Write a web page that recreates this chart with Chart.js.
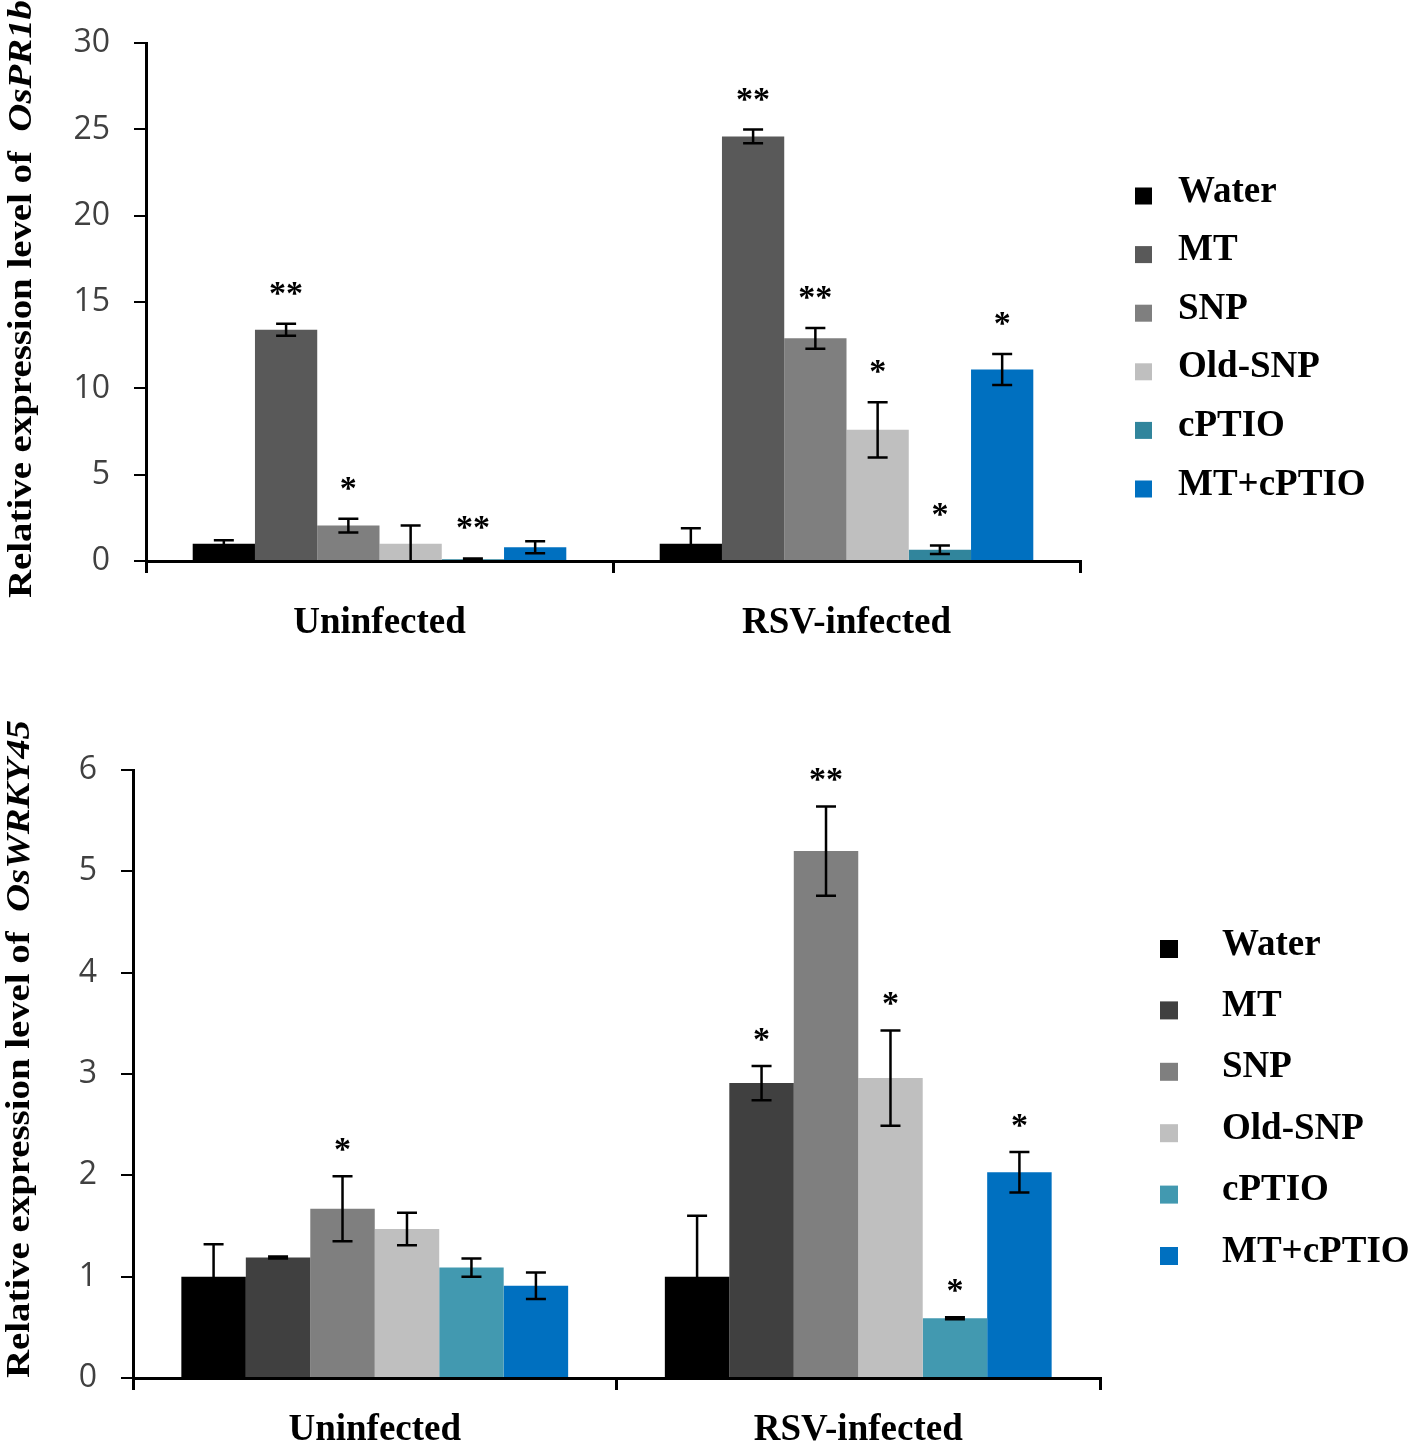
<!DOCTYPE html>
<html>
<head>
<meta charset="utf-8">
<script src="https://cdn.jsdelivr.net/npm/chart.js@4.4.0/dist/chart.umd.min.js"></script>
<style>
    body { margin: 0; background: #fff; }
    .wrap { position: relative; width: 1418px; }
</style>
</head>
<body>
<div class="wrap" style="height:660px"><canvas id="diagram"></canvas></div>
<div class="wrap" style="height:787px"><canvas id="diagram2"></canvas></div>
<script>
// kategorier och behandlingar
const categories = ['Uninfected', 'RSV-infected'];
const treatments = ['Water', 'MT', 'SNP', 'Old-SNP', 'cPTIO', 'MT+cPTIO'];

// OsPR1b: ett värde per behandling och kategori
const pr1bValues = [[1.0, 1.0], [13.4, 24.6], [2.05, 12.9], [1.0, 7.6], [0.1, 0.65], [0.8, 11.1]];
const pr1bErrors = [[0.2, 0.9], [0.35, 0.4], [0.4, 0.6], [1.05, 1.6], [0.05, 0.25], [0.35, 0.9]];
const pr1bStars = [['', ''], ['**', '**'], ['*', '**'], ['', '*'], ['**', '*'], ['', '*']];
const pr1bColors = ['#000000', '#595959', '#7f7f7f', '#bfbfbf', '#31859c', '#0070c0'];

// OsWRKY45
const wrkyValues = [[1.0, 1.0], [1.19, 2.91], [1.67, 5.2], [1.47, 2.96], [1.09, 0.59], [0.91, 2.03]];
const wrkyErrors = [[0.32, 0.6], [0.01, 0.17], [0.32, 0.44], [0.16, 0.47], [0.09, 0.01], [0.13, 0.2]];
const wrkyStars = [['', ''], ['', '*'], ['*', '**'], ['', '*'], ['', '*'], ['', '*']];
const wrkyColors = ['#000000', '#404040', '#7f7f7f', '#bfbfbf', '#4299b0', '#0070c0'];

const serif = 'Liberation Serif';

/**
* Ritar felstaplar och stjärnor ovanför staplarna
*/
const errorBars = {
    id: 'errorBars',
    afterDatasetsDraw(chart, args, opts) {
        const ctx = chart.ctx;
        const y = chart.scales.y;
        ctx.save();
        ctx.strokeStyle = '#000';
        ctx.fillStyle = '#000';
        ctx.lineWidth = 2.5;
        chart.data.datasets.forEach((ds, i) => {
            chart.getDatasetMeta(i).data.forEach((bar, j) => {
                const v = ds.data[j];
                const e = opts.errors[i][j];
                const top = y.getPixelForValue(v + e);
                const low = v - e;
                const bottom = y.getPixelForValue(Math.max(0, low));
                const cap = 10;
                ctx.beginPath();
                ctx.moveTo(bar.x, top);
                ctx.lineTo(bar.x, bottom);
                ctx.moveTo(bar.x - cap, top);
                ctx.lineTo(bar.x + cap, top);
                if (low > 0) {
                    ctx.moveTo(bar.x - cap, bottom);
                    ctx.lineTo(bar.x + cap, bottom);
                }
                ctx.stroke();
                const s = opts.stars[i][j];
                if (s) {
                    ctx.font = 'bold 34px ' + serif;
                    ctx.textAlign = 'center';
                    ctx.textBaseline = 'alphabetic';
                    ctx.fillText(s, bar.x, top - opts.starGap);
                }
            });
        });
        ctx.restore();
    }
};

/**
* Ritar förklaringen till höger
*/
const sideLegend = {
    id: 'sideLegend',
    afterDraw(chart, args, opts) {
        const ctx = chart.ctx;
        ctx.save();
        ctx.font = 'bold 37px ' + serif;
        ctx.textBaseline = 'middle';
        ctx.textAlign = 'left';
        chart.data.datasets.forEach((ds, i) => {
            const yc = opts.top + i * opts.step;
            ctx.fillStyle = ds.backgroundColor;
            ctx.fillRect(opts.boxX, yc + 4 - opts.box / 2, opts.box, opts.box);
            ctx.fillStyle = '#000';
            ctx.fillText(ds.label, opts.textX, yc);
        });
        ctx.restore();
    }
};

/**
* Ritar y-axelns titel med kursivt gennamn
*/
const yTitle = {
    id: 'yTitle',
    afterDraw(chart, args, opts) {
        const ctx = chart.ctx;
        const plain = 'Relative expression level of  ';
        ctx.save();
        ctx.font = 'bold 34px ' + serif;
        const w1 = ctx.measureText(plain).width;
        ctx.font = 'italic bold 34px ' + serif;
        const w2 = ctx.measureText(opts.gene).width;
        const k = opts.length / (w1 + w2);
        ctx.translate(opts.x, opts.bottom);
        ctx.rotate(-Math.PI / 2);
        ctx.scale(k, 1);
        ctx.fillStyle = '#000';
        ctx.textBaseline = 'middle';
        ctx.textAlign = 'left';
        ctx.font = 'bold 34px ' + serif;
        ctx.fillText(plain, 0, 0);
        ctx.font = 'italic bold 34px ' + serif;
        ctx.fillText(opts.gene, w1, 0);
        ctx.restore();
    }
};

/**
* Skapar ett stapeldiagram
*/
function createChart(id, values, errors, stars, colors, cfg) {
    const ctx = document.getElementById(id).getContext('2d');
    new Chart(ctx, {
        type: 'bar',
        data: {
            labels: categories,
            datasets: treatments.map((name, i) => ({
                label: name,
                data: values[i],
                backgroundColor: colors[i],
                borderWidth: 0,
                barPercentage: 1,
                categoryPercentage: 0.8
            }))
        },
        options: {
            responsive: true,
            maintainAspectRatio: false,
            animation: false,
            layout: { padding: { top: cfg.padTop, right: cfg.padRight, left: 0, bottom: 0 } },
            scales: {
                x: {
                    grid: { display: true, drawOnChartArea: false, offset: true, tickLength: 12, color: '#000', lineWidth: 3 },
                    border: { display: true, color: '#000', width: 3 },
                    ticks: { color: '#000', padding: cfg.xPad, font: { family: serif, size: 37, weight: 'bold' } },
                    afterFit: s => { s.height = cfg.xHeight; }
                },
                y: {
                    min: 0,
                    max: cfg.yMax,
                    grid: { display: true, drawOnChartArea: false, tickLength: 12, color: '#000', lineWidth: 2 },
                    border: { display: true, color: '#000', width: 3 },
                    ticks: { stepSize: cfg.step, color: '#404040', padding: 24, font: { family: 'Open Sans', size: 32 } },
                    afterFit: s => { s.width = cfg.yWidth; }
                }
            },
            plugins: {
                legend: { display: false },
                tooltip: { enabled: false },
                errorBars: { errors: errors, stars: stars, starGap: cfg.starGap },
                sideLegend: cfg.legend,
                yTitle: cfg.title
            }
        },
        plugins: [errorBars, sideLegend, yTitle]
    });
}

createChart('diagram', pr1bValues, pr1bErrors, pr1bStars, pr1bColors, {
    padTop: 32, padRight: 338, xHeight: 99, xPad: 28, yWidth: 146, yMax: 30, step: 5, starGap: 20,
    legend: { boxX: 1135, textX: 1178, top: 192, step: 58.6, box: 17 },
    title: { gene: 'OsPR1b', x: 22, bottom: 598, length: 598 }
});

createChart('diagram2', wrkyValues, wrkyErrors, wrkyStars, wrkyColors, {
    padTop: 110, padRight: 318, xHeight: 69, xPad: 18, yWidth: 133, yMax: 6, step: 1, starGap: 16,
    legend: { boxX: 1160, textX: 1222, top: 285, step: 61.4, box: 18 },
    title: { gene: 'OsWRKY45', x: 20, bottom: 718, length: 658 }
});
</script>
</body>
</html>
